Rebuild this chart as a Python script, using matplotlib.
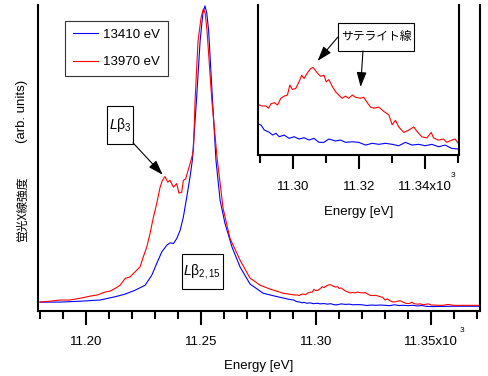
import matplotlib
matplotlib.use('Agg')
import matplotlib.pyplot as plt
from matplotlib.patches import Rectangle
from matplotlib.ticker import MultipleLocator, FixedLocator, FixedFormatter

plt.rcParams['font.family'] = ['Liberation Sans', 'Noto Sans CJK JP', 'DejaVu Sans']
plt.rcParams['mathtext.fontset'] = 'custom'
plt.rcParams['mathtext.rm'] = 'Liberation Sans'
plt.rcParams['mathtext.it'] = 'Liberation Sans:italic'

# energy in keV (axis shows x10^3 eV), intensity in arb. units
e_red = [11.1800, 11.1843, 11.1887, 11.1930, 11.1974, 11.2017, 11.2048, 11.2083, 11.2104, 11.2126,
         11.2148, 11.2170, 11.2191, 11.2213, 11.2235, 11.2249, 11.2264, 11.2278, 11.2293, 11.2307,
         11.2322, 11.2332, 11.2343, 11.2355, 11.2365, 11.2380, 11.2394, 11.2404, 11.2416, 11.2423,
         11.2433, 11.2448, 11.2460, 11.2467, 11.2474, 11.2487, 11.2500, 11.2510, 11.2518, 11.2526,
         11.2547, 11.2570, 11.2596, 11.2626, 11.2670, 11.2713, 11.2757, 11.2800, 11.2857,
         11.2907, 11.2919, 11.2927, 11.2934, 11.2944, 11.2954, 11.2964, 11.2974, 11.2984, 11.2991,
         11.2999, 11.3009, 11.3019, 11.3027, 11.3034, 11.3044, 11.3054, 11.3061, 11.3067, 11.3074,
         11.3084, 11.3094, 11.3101, 11.3109, 11.3119, 11.3129, 11.3139, 11.3149, 11.3159, 11.3169,
         11.3180, 11.3189, 11.3205, 11.3214, 11.3225, 11.3235, 11.3245, 11.3260, 11.3275, 11.3290,
         11.3300, 11.3310, 11.3320, 11.3335, 11.3350, 11.3365, 11.3375, 11.3390, 11.3405, 11.3418,
         11.3425, 11.3440, 11.3455, 11.3465, 11.3480, 11.3490, 11.3500, 11.3550, 11.3574, 11.3600,
         11.3650, 11.3710]
i_red = [0.000, 0.003, 0.007, 0.007, 0.013, 0.020, 0.024, 0.034, 0.037, 0.046,
         0.057, 0.080, 0.085, 0.102, 0.119, 0.153, 0.186, 0.231, 0.287, 0.332,
         0.388, 0.411, 0.424, 0.405, 0.411, 0.388, 0.400, 0.368, 0.371, 0.411,
         0.416, 0.456, 0.489, 0.512, 0.680, 0.882, 0.960, 0.990, 0.975, 0.916,
         0.680, 0.485, 0.316, 0.215, 0.141, 0.081, 0.057, 0.044, 0.030,
         0.024, 0.024, 0.022, 0.026, 0.027, 0.025, 0.031, 0.033, 0.034, 0.043,
         0.039, 0.040, 0.046, 0.052, 0.049, 0.054, 0.058, 0.059, 0.057, 0.054,
         0.051, 0.052, 0.046, 0.048, 0.042, 0.037, 0.034, 0.031, 0.033, 0.031,
         0.034, 0.032, 0.031, 0.032, 0.027, 0.023, 0.022, 0.023, 0.019, 0.016,
         0.007, 0.011, 0.005, 0.000, 0.002, 0.005, 0.001, -0.004, -0.005, 0.000,
         -0.005, -0.007, -0.006, -0.009, -0.007, -0.006, -0.010, -0.011, -0.008, -0.011,
         -0.011, -0.011]

e_blue = [11.1800, 11.1887, 11.1974, 11.2061, 11.2126, 11.2170, 11.2213, 11.2257, 11.2286, 11.2307,
          11.2329, 11.2351, 11.2365, 11.2380, 11.2394, 11.2409, 11.2423, 11.2438, 11.2452, 11.2462,
          11.2480, 11.2496, 11.2508, 11.2517, 11.2525, 11.2533, 11.2550, 11.2565, 11.2583, 11.2604,
          11.2635, 11.2670, 11.2713, 11.2770, 11.2822, 11.2878,
          11.2904, 11.2914, 11.2929, 11.2939, 11.2949, 11.2959, 11.2974, 11.2989, 11.3004, 11.3019,
          11.3034, 11.3049, 11.3064, 11.3079, 11.3094, 11.3109, 11.3129, 11.3144, 11.3159, 11.3180,
          11.3199, 11.3220, 11.3240, 11.3260, 11.3280, 11.3300, 11.3320, 11.3340, 11.3360, 11.3380,
          11.3400, 11.3420, 11.3440, 11.3460, 11.3480, 11.3500, 11.3600, 11.3710]
i_blue = [0.000, 0.000, 0.003, 0.007, 0.018, 0.027, 0.040, 0.057, 0.091, 0.130,
          0.169, 0.192, 0.200, 0.198, 0.214, 0.242, 0.287, 0.355, 0.422, 0.478,
          0.680, 0.882, 0.975, 1.000, 0.975, 0.916, 0.680, 0.478, 0.343, 0.266,
          0.185, 0.118, 0.061, 0.030, 0.020, 0.010,
          0.0067, 0.0022, 0.0001, -0.0024, -0.0008, -0.0039, -0.0024, -0.0054, -0.0039, -0.0060,
          -0.0048, -0.0069, -0.0054, -0.0090, -0.0090, -0.0060, -0.0078, -0.0069, -0.0090, -0.0085,
          -0.0090, -0.0115, -0.0099, -0.0108, -0.0099, -0.0108, -0.0121, -0.0090, -0.0115, -0.0108,
          -0.0121, -0.0108, -0.0130, -0.0115, -0.0145, -0.0151, -0.0140, -0.0140]

series_labels = ['13410 eV', '13970 eV']
main_ticks = [11.20, 11.25, 11.30, 11.35]
main_ticklabels = ['11.20', '11.25', '11.30', '11.35x10']
inset_ticks = [11.30, 11.32, 11.34]
inset_ticklabels = ['11.30', '11.32', '11.34x10']


def style_axes(ax, ticks, ticklabels, minor_step):
    for s in ['left', 'bottom', 'right']:
        ax.spines[s].set_linewidth(1.5)
    ax.spines['top'].set_visible(False)
    ax.set_yticks([])
    ax.xaxis.set_major_locator(FixedLocator(ticks))
    ax.xaxis.set_major_formatter(FixedFormatter(ticklabels))
    ax.xaxis.set_minor_locator(MultipleLocator(minor_step))
    ax.tick_params(axis='x', which='major', direction='out', length=10, width=1.5,
                   labelsize=9.5, pad=8.5)
    ax.tick_params(axis='x', which='minor', direction='out', length=5.5, width=1.5)


fig = plt.figure(figsize=(4.89, 3.76), dpi=100)

ax = fig.add_axes([0.0777, 0.1737, 0.9039, 0.813])
ax.plot(e_blue, i_blue, color='#0000ff', lw=0.8, label=series_labels[0])
ax.plot(e_red, i_red, color='#ff0000', lw=0.8, label=series_labels[1])
ax.set_xlim(11.1791, 11.3713)
ax.set_ylim(-0.029, 1.003)
style_axes(ax, main_ticks, main_ticklabels, 0.01)
ax.set_xlabel('Energy [eV]', fontsize=9.5, labelpad=8.5)

leg = ax.legend(loc='upper left', bbox_to_anchor=(0.061, 0.948), fontsize=9.5,
                frameon=True, fancybox=False, handlelength=1.9, handletextpad=0.4,
                borderpad=0.6, labelspacing=1.15, borderaxespad=0)
leg.get_frame().set_edgecolor('black')
leg.get_frame().set_linewidth(0.8)

# annotation boxes in main plot
ax.add_patch(Rectangle((0.156, 0.545), 0.059, 0.125, transform=ax.transAxes,
                       facecolor='white', edgecolor='black', lw=0.8, zorder=5))
ax.text(0.1855, 0.6075, r'$\mathit{L}\mathrm{\beta}_{\mathrm{3}}$', transform=ax.transAxes,
        ha='center', va='center', fontsize=10, zorder=6)
ax.annotate('', xy=(11.2333, 0.43), xycoords='data', xytext=(0.215, 0.549),
            textcoords='axes fraction',
            arrowprops=dict(arrowstyle='-|>,head_length=0.9,head_width=0.3', color='black',
                            lw=0.8, mutation_scale=10, shrinkA=0, shrinkB=0), zorder=6)

ax.add_patch(Rectangle((0.326, 0.071), 0.0926, 0.1145, transform=ax.transAxes,
                       facecolor='white', edgecolor='black', lw=0.8, zorder=5))
ax.text(0.372, 0.128, r'$\mathit{L}\mathrm{\beta}_{\mathrm{2,15}}$', transform=ax.transAxes,
        ha='center', va='center', fontsize=10, zorder=6)

fig.text(0.945, 0.121, '3', fontsize=6, ha='center', va='center')

# y label: two pieces
fig.text(0.045, 0.443, '蛍光X線強度', rotation=90, ha='center', va='center', fontsize=8.5,
         family=['Noto Sans CJK JP', 'Liberation Sans'])
fig.text(0.045, 0.7035, '(arb. units)', rotation=90, ha='center', va='center', fontsize=9.5)

# inset
axin = fig.add_axes([0.5276, 0.5878, 0.4111, 0.399])
axin.plot(e_blue, i_blue, color='#0000ff', lw=0.8)
axin.plot(e_red, i_red, color='#ff0000', lw=0.8)
axin.set_xlim(11.2895, 11.3502)
axin.set_ylim(-0.0205, 0.1158)
style_axes(axin, inset_ticks, inset_ticklabels, 0.01)
axin.set_xlabel('Energy [eV]', fontsize=9.5, labelpad=9.5)

axin.add_patch(Rectangle((0.398, 0.693), 0.378, 0.187, transform=axin.transAxes,
                         facecolor='white', edgecolor='black', lw=0.8, zorder=5))
axin.text(0.587, 0.787, 'サテライト線', transform=axin.transAxes, ha='center', va='center',
          fontsize=8.5, family=['Noto Sans CJK JP', 'Liberation Sans'], zorder=6)
axin.annotate('', xy=(11.3075, 0.065), xycoords='data', xytext=(0.398, 0.787),
              textcoords='axes fraction',
              arrowprops=dict(arrowstyle='-|>,head_length=0.9,head_width=0.3', color='black',
                              lw=0.8, mutation_scale=10, shrinkA=0, shrinkB=0), zorder=6)
axin.annotate('', xy=(11.3205, 0.0413), xycoords='data', xytext=(0.522, 0.693),
              textcoords='axes fraction',
              arrowprops=dict(arrowstyle='-|>,head_length=0.9,head_width=0.3', color='black',
                              lw=0.8, mutation_scale=10, shrinkA=0, shrinkB=0), zorder=6)

fig.text(0.927, 0.532, '3', fontsize=6, ha='center', va='center')

fig.savefig('out.png', dpi=100)
